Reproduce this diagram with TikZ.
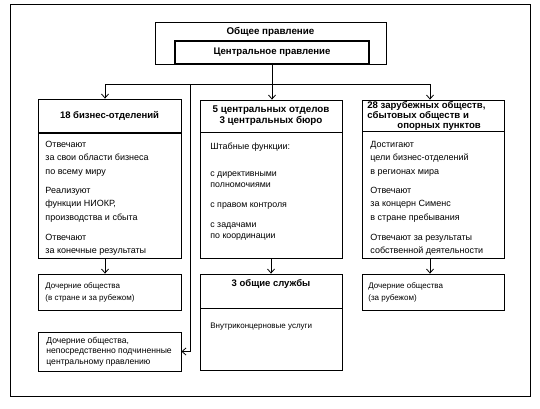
\documentclass[tikz,border=0pt]{standalone}
\usepackage{fontspec}
\setmainfont{Liberation Sans}
\usetikzlibrary{arrows.meta, positioning}

\tikzset{
  box/.style={draw, line width=0.8pt, inner sep=0pt},
  headtext/.style={font=\bfseries\fontsize{9.8}{11.5}\selectfont, align=center},
  bodytext/.style={font=\fontsize{9}{13.5}\selectfont, align=left, anchor=base west, inner sep=0pt},
  smalltext/.style={font=\fontsize{8}{12}\selectfont, align=left, anchor=base west, inner sep=0pt},
}

\begin{document}
\begin{tikzpicture}[x=1pt, y=-1pt, line width=0.8pt, >={Straight Barb[length=4pt,width=7pt]}]

%\draw[xstep=10pt,ystep=-10pt,color=gray!30] (0,0) grid (540,408);
\useasboundingbox (0,0) rectangle (540,408);
\draw (10,4) rectangle (530,396);

% top
\node[box, minimum width=231pt, minimum height=42pt] (gm) at (270.5,43) {};
\node[headtext] (gmname) at (270.5,31.5) {Общее правление};
\node[box, line width=1.2pt, minimum width=194pt, minimum height=23pt, headtext, font=\bfseries\fontsize{9.6}{11}\selectfont] (cb) at (272,52.5) {Центральное правление};

% business divisions (anchor = last baseline)
\node[box, minimum width=143pt, minimum height=33pt, headtext, font=\bfseries\fontsize{9.5}{11}\selectfont] (bd) at (109.5,115.5) {18 бизнес-отделений};
\node[box, minimum width=143pt, minimum height=125pt] (bdb) at (109.5,195.5) {};
\node[bodytext] (bdt) at (45,253.5) {Отвечают\\за свои области бизнеса\\по всему миру\\[5.5pt]Реализуют\\функции НИОКР,\\производства и сбыта\\[6.5pt]Отвечают\\за конечные результаты};
\node[box, minimum width=143pt, minimum height=36pt] (bdc) at (109.5,292) {};
\node[smalltext] (bdct) at (45,300.5) {Дочерние общества\\(в стране и за рубежом)};

% central departments
\node[box, minimum width=142pt, minimum height=32pt, headtext, font=\bfseries\fontsize{9.8}{11}\selectfont] (zo) at (271,116) {5 центральных отделов\\3 центральных бюро};
\node[box, minimum width=142pt, minimum height=126pt] (zob) at (271,195) {};
\node[bodytext] (zot) at (210,149) {Штабные функции:};
\node[bodytext, font=\fontsize{8.8}{10.8}\selectfont] (zos) at (210,238) {с директивными\\полномочиями\\[9.7pt]с правом контроля\\[8.7pt]с задачами\\по координации};
\node[box, minimum width=142pt, minimum height=34pt] (sh) at (271,291) {};
\node[headtext, font=\bfseries\fontsize{9.5}{11}\selectfont] (sht) at (271,284) {3 общие службы};
\node[box, minimum width=142pt, minimum height=62pt] (shb) at (271,339) {};
\node[smalltext] (shbt) at (210,328) {Внутриконцерновые услуги};

% foreign companies
\node[box, minimum width=142pt, minimum height=31pt] (ab) at (433,115.5) {};
\node[headtext, align=left, anchor=base west, inner sep=0pt, font=\bfseries\fontsize{9.6}{10}\selectfont] (abt) at (367,128.5) {28 зарубежных обществ,\\сбытовых обществ и\\\hspace*{30pt}опорных пунктов};
\node[box, minimum width=142pt, minimum height=127pt] (abb) at (433,194.5) {};
\node[bodytext] (abbt) at (370,253.5) {Достигают\\цели бизнес-отделений\\в регионах мира\\[5.5pt]Отвечают\\за концерн Сименс\\в стране пребывания\\[6.5pt]Отвечают за результаты\\собственной деятельности};
\node[box, minimum width=142pt, minimum height=36pt] (abc) at (433,292) {};
\node[smalltext] (abct) at (368,300.5) {Дочерние общества\\(за рубежом)};

% directly subordinate
\node[box, minimum width=143pt, minimum height=39pt] (dl) at (109.5,351.5) {};
\node[smalltext, font=\fontsize{8.6}{10.8}\selectfont] (dlt) at (46,364.6) {Дочерние общества,\\непосредственно подчиненные\\центральному правлению};

% connectors
\coordinate (bar) at (272,84);
\coordinate (bend) at (190,351.5);
\draw (cb.south) -- (bar);
\draw[->] (bar) -| ([xshift=-4.5pt]bd.north);
\draw[->] (bar) -| ([xshift=-3pt]ab.north);
\draw[->] (bar) -- (bar |- zo.north);
\draw[->] (bend |- bar) -- (bend) -- (dl.east);

\draw[->] ([xshift=-4.5pt]bdb.south) -- ([xshift=-4.5pt]bdc.north);
\draw[->] (zob.south) -- (sh.north);
\draw[->] ([xshift=-3pt]abb.south) -- ([xshift=-3pt]abc.north);

\end{tikzpicture}
\end{document}
